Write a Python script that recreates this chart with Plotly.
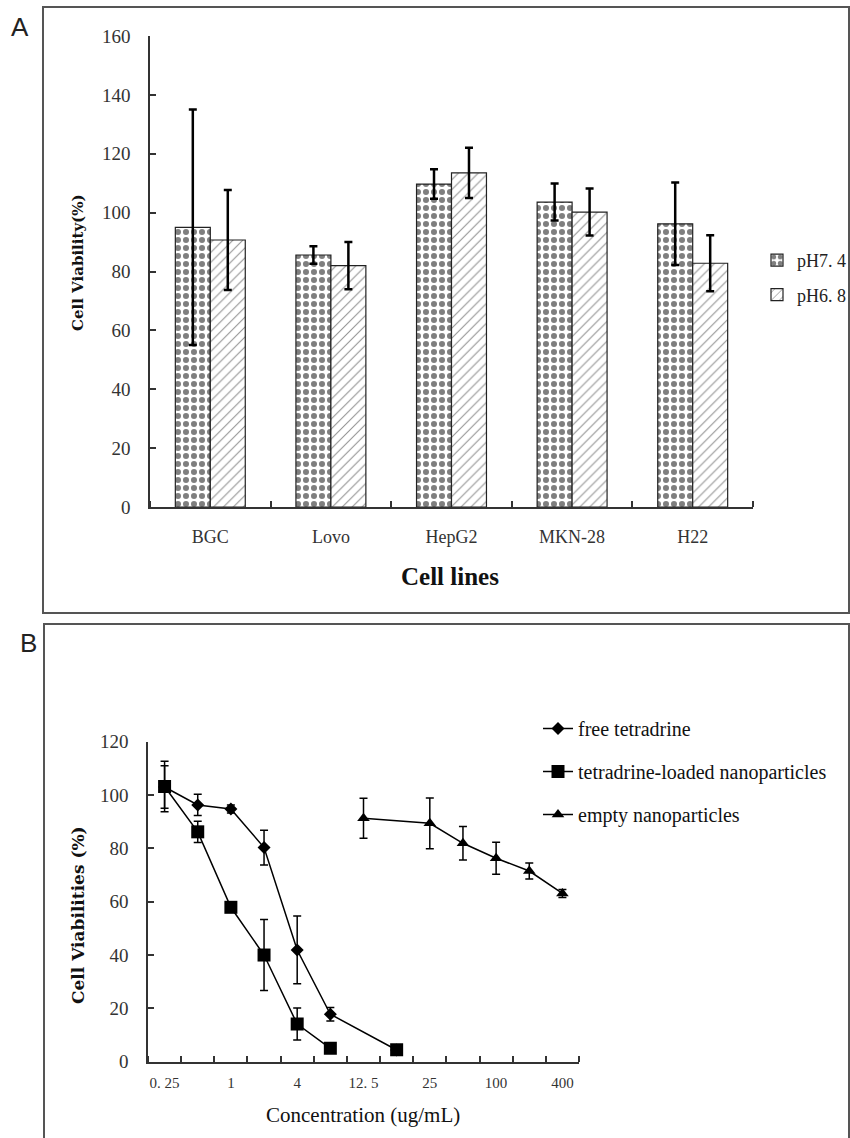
import plotly.graph_objects as go

W, H = 850, 1138

# ---------------- Panel A data ----------------
cell_lines = ["BGC", "Lovo", "HepG2", "MKN-28", "H22"]
ph74_vals = [95.0, 85.6, 109.7, 103.6, 96.2]
ph74_err = [40.0, 3.0, 5.0, 6.3, 14.0]
ph68_vals = [90.7, 82.0, 113.5, 100.2, 82.8]
ph68_err = [17.0, 8.0, 8.5, 8.0, 9.5]
a_yticks = [0, 20, 40, 60, 80, 100, 120, 140, 160]

# ---------------- Panel B data ----------------
conc_cats = [0.25, 0.5, 1, 2, 4, 8, 12.5, 16, 25, 50, 100, 200, 400]
conc_ticktext = {0.25: "0. 25", 1: "1", 4: "4", 12.5: "12. 5", 25: "25", 100: "100", 400: "400"}

free_conc = [0.25, 0.5, 1, 2, 4, 8, 16]
free_vals = [103.0, 96.3, 94.8, 80.3, 41.9, 17.8, 4.4]
free_err = [8.0, 4.0, 1.5, 6.5, 12.7, 2.5, 1.0]

loaded_conc = [0.25, 0.5, 1, 2, 4, 8, 12.5, 16]
loaded_vals = [103.2, 86.2, 57.9, 40.0, 14.1, 5.0, None, 4.5]
loaded_err = [9.5, 4.0, 1.0, 13.3, 6.0, 1.0, 0.0, 1.0]

empty_conc = [12.5, 25, 50, 100, 200, 400]
empty_vals = [91.3, 89.4, 81.9, 76.3, 71.5, 63.1]
empty_err = [7.5, 9.5, 6.3, 6.0, 3.0, 1.5]
b_yticks = [0, 20, 40, 60, 80, 100, 120]


def px_x(p):
    return p / W


def px_y(p):
    return 1 - p / H


SERIF = "Liberation Serif"
fig = go.Figure()

# Panel A bars
xa = list(range(len(cell_lines)))
fig.add_trace(go.Bar(
    x=xa, y=ph74_vals, name="pH7. 4", xaxis="x", yaxis="y", legend="legend", legendgroup="a1",
    marker=dict(color="white", line=dict(color="#222", width=1.2),
                pattern=dict(shape=".", fgcolor="black", bgcolor="white", size=8, solidity=0.45)),
    error_y=dict(type="data", array=ph74_err, color="black", thickness=2.5, width=4),
))
fig.add_trace(go.Bar(
    x=xa, y=ph68_vals, name="pH6. 8", xaxis="x", yaxis="y", legend="legend", legendgroup="a2",
    marker=dict(color="white", line=dict(color="#222", width=1.2),
                pattern=dict(shape="/", fgcolor="#222", bgcolor="white", size=7, solidity=0.15)),
    error_y=dict(type="data", array=ph68_err, color="black", thickness=2.5, width=4),
))

# Panel B lines
def idx(lst):
    return [conc_cats.index(c) for c in lst]

fig.add_trace(go.Scatter(
    x=idx(free_conc), y=free_vals, name="free tetradrine", xaxis="x2", yaxis="y2",
    legend="legend2", legendgroup="g1", mode="lines+markers",
    line=dict(color="black", width=1.5),
    marker=dict(symbol="diamond", size=10, color="black"),
    error_y=dict(type="data", array=free_err, color="black", thickness=1.5, width=4),
))
fig.add_trace(go.Scatter(
    x=idx(loaded_conc), y=loaded_vals, name="tetradrine-loaded nanoparticles", xaxis="x2", yaxis="y2",
    legend="legend2", legendgroup="g2", mode="lines+markers", connectgaps=False,
    line=dict(color="black", width=1.5),
    marker=dict(symbol="square", size=13, color="black"),
    error_y=dict(type="data", array=loaded_err, color="black", thickness=1.5, width=4),
))
fig.add_trace(go.Scatter(
    x=idx(empty_conc), y=empty_vals, name="empty nanoparticles", xaxis="x2", yaxis="y2",
    legend="legend2", legendgroup="g3", mode="lines+markers",
    line=dict(color="black", width=1.5),
    marker=dict(symbol="triangle-up", size=11, color="black"),
    error_y=dict(type="data", array=empty_err, color="black", thickness=1.5, width=4),
))

tick_font = dict(family=SERIF, size=19, color="#333")
axis_common = dict(showline=True, linecolor="#333", linewidth=1.5, showgrid=False, zeroline=False,
                   ticks="inside", ticklen=6, tickcolor="#333", tickwidth=1.5,
                   ticklabelstandoff=14, automargin=False)

b_tickvals = [conc_cats.index(c) for c in conc_ticktext]
b_ticktext = [conc_ticktext[c] for c in conc_ticktext]


def frame_path(x0, y0, x1, y1, bottom=True):
    X0, X1 = px_x(x0), px_x(x1)
    Y0, Y1 = px_y(y0), px_y(y1)
    if bottom:
        return f"M {X0},{Y1} L {X0},{Y0} L {X1},{Y0} L {X1},{Y1} Z"
    return f"M {X0},{Y1} L {X0},{Y0} L {X1},{Y0} L {X1},{Y1}"


fig.update_layout(
    width=W, height=H, margin=dict(l=0, r=0, t=0, b=0, autoexpand=False),
    paper_bgcolor="white", plot_bgcolor="white",
    barmode="group", bargap=0.42, bargroupgap=0,
    xaxis=dict(domain=[px_x(150), px_x(753)], range=[-0.5, 4.5], anchor="y",
               tickvals=xa, ticktext=cell_lines, tickfont=dict(family=SERIF, size=18, color="#333"),
               showline=True, linecolor="#333", linewidth=1.5, showgrid=False, zeroline=False,
               ticks="", ticklabelstandoff=13, automargin=False,
               minor=dict(tickmode="array", tickvals=[-0.5 + i for i in range(6)], ticks="inside",
                          ticklen=6, tickcolor="#333", tickwidth=1.5, showgrid=False)),
    yaxis=dict(domain=[px_y(507), px_y(36)], range=[0, 160], anchor="x",
               tickvals=a_yticks, tickfont=tick_font, **axis_common),
    xaxis2=dict(domain=[px_x(148), px_x(579)], range=[-0.5, 12.5], anchor="y2",
                tickvals=b_tickvals, ticktext=b_ticktext,
                tickfont=dict(family=SERIF, size=15, color="#333"),
                showline=True, linecolor="#333", linewidth=1.5, showgrid=False, zeroline=False,
                ticks="", ticklabelstandoff=7, automargin=False,
                minor=dict(tickmode="array", tickvals=[-0.5 + i for i in range(14)], ticks="inside",
                           ticklen=6, tickcolor="#333", tickwidth=1.5, showgrid=False)),
    yaxis2=dict(domain=[px_y(1061.7), px_y(741.7)], range=[0, 120], anchor="x2",
                tickvals=b_yticks, tickfont=tick_font, **axis_common),
    legend=dict(x=px_x(757), y=px_y(242), xanchor="left", yanchor="top",
                font=dict(family=SERIF, size=18, color="#222"), tracegroupgap=8,
                traceorder="grouped", bgcolor="rgba(0,0,0,0)"),
    legend2=dict(x=px_x(538), y=px_y(709), xanchor="left", yanchor="top",
                 font=dict(family=SERIF, size=20, color="#111"), tracegroupgap=14,
                 traceorder="grouped", bgcolor="rgba(0,0,0,0)"),
    shapes=[
        dict(type="path", xref="paper", yref="paper", path=frame_path(43, 7, 849, 613),
             line=dict(color="#555", width=2)),
        dict(type="path", xref="paper", yref="paper", path=frame_path(44, 624, 849, 1138, bottom=False),
             line=dict(color="#555", width=2)),
    ],
    annotations=[
        dict(text="A", xref="paper", yref="paper", x=px_x(20), y=px_y(27), showarrow=False,
             xanchor="center", yanchor="middle",
             font=dict(family="Liberation Sans", size=26, color="#222")),
        dict(text="B", xref="paper", yref="paper", x=px_x(28), y=px_y(643), showarrow=False,
             xanchor="center", yanchor="middle",
             font=dict(family="Liberation Sans", size=26, color="#222")),
        dict(text="<b>Cell Viability(%)</b>", xref="paper", yref="paper", x=px_x(78), y=px_y(263),
             xanchor="center", yanchor="middle",
             textangle=-90, showarrow=False, font=dict(family="DejaVu Serif", size=15, color="#111")),
        dict(text="<b>Cell lines</b>", xref="paper", yref="paper", x=px_x(450), y=px_y(577),
             xanchor="center", yanchor="middle",
             showarrow=False, font=dict(family=SERIF, size=25, color="#111")),
        dict(text="<b>Cell Viabilities (%)</b>", xref="paper", yref="paper", x=px_x(78), y=px_y(915),
             xanchor="center", yanchor="middle",
             textangle=-90, showarrow=False, font=dict(family="DejaVu Serif", size=17, color="#111")),
        dict(text="Concentration (ug/mL)", xref="paper", yref="paper", x=px_x(363), y=px_y(1115),
             xanchor="center", yanchor="middle",
             showarrow=False, font=dict(family=SERIF, size=21, color="#111")),
    ],
)

fig.write_html(
    "out.html",
    config={"displayModeBar": False},
    post_script=(
        "var d=document.getElementById('{plot_id}');"
        "d.style.position='fixed';d.style.top='0px';d.style.left='0px';"
        "document.body.style.margin='0';document.body.style.padding='0';"
        "document.documentElement.style.overflow='hidden';"
    ),
)
